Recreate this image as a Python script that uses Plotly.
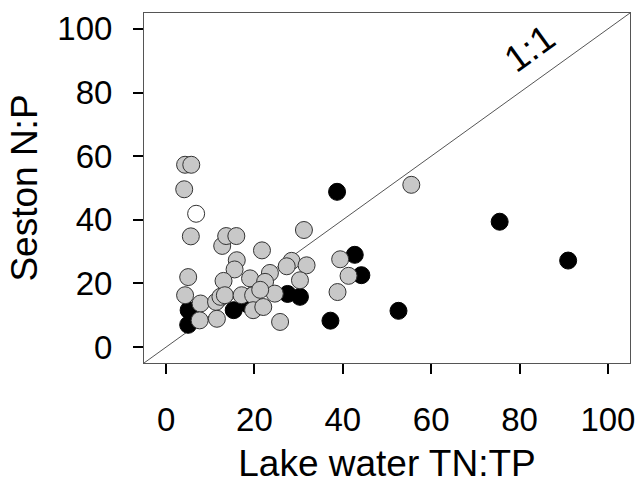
import plotly.graph_objects as go

# Gray points (lake water TN:TP, seston N:P)
gray_x = [4.3, 5.7, 4.1, 5.6, 12.7, 13.6, 15.9, 31.2, 21.7, 16.0, 15.5, 5.0, 13.0, 19.0,
          4.3, 7.8, 11.3, 12.3, 13.3, 17.1, 7.6, 11.5, 28.4, 27.3, 31.8, 30.3, 23.5, 22.4,
          24.6, 19.7, 21.3, 19.7, 22.0, 25.8, 39.4, 41.3, 38.8, 55.5]
gray_y = [57.3, 57.3, 49.6, 34.8, 31.8, 34.9, 34.9, 36.8, 30.4, 27.3, 24.4, 22.0, 20.8, 21.6,
          16.3, 13.7, 14.2, 15.8, 16.3, 16.3, 8.4, 8.9, 27.1, 25.4, 25.7, 21.0, 23.3, 20.5,
          16.8, 16.3, 18.0, 11.6, 12.6, 7.9, 27.6, 22.4, 17.3, 51.0]

# White point
white_x = [6.8]
white_y = [41.9]

# Black points
black_x = [38.7, 75.5, 91.0, 42.7, 44.2, 30.3, 27.5, 52.6, 37.2, 5.1, 5.0, 15.3, 18.4]
black_y = [48.8, 39.4, 27.2, 29.0, 22.6, 15.8, 16.7, 11.4, 8.3, 11.6, 7.0, 11.6, 13.5]

# 1:1 reference line
line_xy = [-5, 105]

tick_vals = [0, 20, 40, 60, 80, 100]
tick_text = ["0", "20", "40", "60", "80", "100"]

FONT = "Arial, Liberation Sans, sans-serif"

fig = go.Figure()
fig.add_trace(go.Scatter(x=line_xy, y=line_xy, mode="lines",
                         line=dict(color="#555555", width=1), hoverinfo="skip",
                         showlegend=False))
fig.add_trace(go.Scatter(x=black_x, y=black_y, mode="markers",
                         marker=dict(size=17, color="black", line=dict(color="black", width=1)),
                         showlegend=False))
fig.add_trace(go.Scatter(x=gray_x, y=gray_y, mode="markers",
                         marker=dict(size=17, color="#c8c8c8", line=dict(color="#333333", width=1)),
                         showlegend=False))
fig.add_trace(go.Scatter(x=white_x, y=white_y, mode="markers",
                         marker=dict(size=17, color="white", line=dict(color="#333333", width=1)),
                         showlegend=False))

fig.add_annotation(x=82.3, y=93.8, text="1:1", showarrow=False, textangle=-36,
                   font=dict(family=FONT, size=37, color="black"))

axis_common = dict(range=[-5, 105], tickvals=tick_vals, ticktext=tick_text,
                   showgrid=False, zeroline=False, showline=True, linecolor="#555555",
                   linewidth=1, mirror=True, ticks="outside", ticklen=10, tickwidth=2,
                   tickcolor="black", tickfont=dict(family=FONT, size=33, color="black"))

fig.update_xaxes(**axis_common, ticklabelstandoff=17,
                 title=dict(text="Lake water TN:TP", font=dict(family=FONT, size=37, color="black"),
                            standoff=34))
fig.update_yaxes(**axis_common, ticklabelstandoff=14,
                 title=dict(text="Seston N:P", font=dict(family=FONT, size=37, color="black"),
                            standoff=8))

fig.update_layout(width=640, height=484, margin=dict(l=144, r=10, t=13, b=121, autoexpand=False),
                  plot_bgcolor="white", paper_bgcolor="white", showlegend=False)

fig.write_html("out.html")
